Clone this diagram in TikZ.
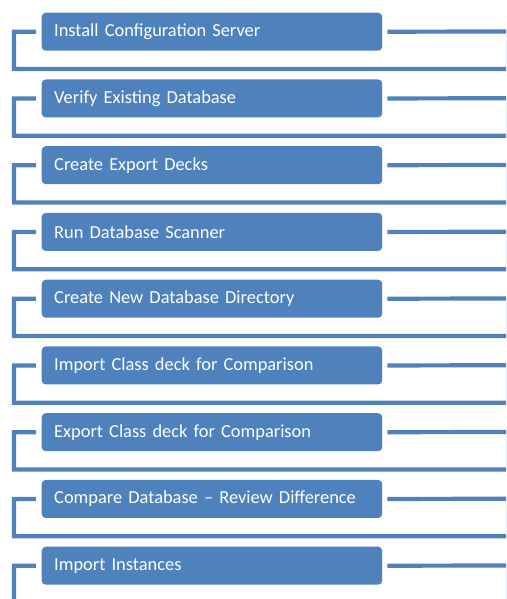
\documentclass[tikz,border=0pt]{standalone}
\usepackage{fontspec}
\setmainfont{Carlito}
\definecolor{sablue}{HTML}{4F81BD}
\begin{document}
\begin{tikzpicture}[x=1pt,y=-1pt,
  stepbox/.style={fill=sablue,draw=none,rounded corners=4pt,minimum width=340.5pt,minimum height=38pt,
    inner xsep=12.5pt,inner ysep=0pt,text=white,font=\fontsize{18.4}{22}\selectfont,anchor=north west,
    text width=315.5pt,align=left},
  bracket/.style={draw=sablue,line width=4.2pt}]
\useasboundingbox (0,0) rectangle (506,599);
\clip (0,0) rectangle (506,599);
\foreach \t/\lab [count=\i] in {
  Install Configuration Server/b1,
  Verify Existing Database/b2,
  Create Export Decks/b3,
  Run Database Scanner/b4,
  Create New Database Directory/b5,
  Import Class deck for Comparison/b6,
  Export Class deck for Comparison/b7,
  Compare Database -- Review Difference/b8,
  Import Instances/b9}{
  \pgfmathsetmacro{\yy}{12.5+(\i-1)*66.75}
  \pgfmathsetmacro{\cc}{\yy+19}
  \pgfmathsetmacro{\bb}{\yy+56.5}
  \node[stepbox] (\lab) at (41.5,\yy) {\t};
  \coordinate (r\i) at (508.2,\cc);
  \coordinate (l\i) at (14,\bb);
  \draw[bracket] ([xshift=5pt]\lab.east) -- (r\i) -- (r\i |- l\i) -- (l\i)
     -- (l\i |- \lab.west) -- ([xshift=-5.5pt]\lab.west);
}
\end{tikzpicture}
\end{document}
